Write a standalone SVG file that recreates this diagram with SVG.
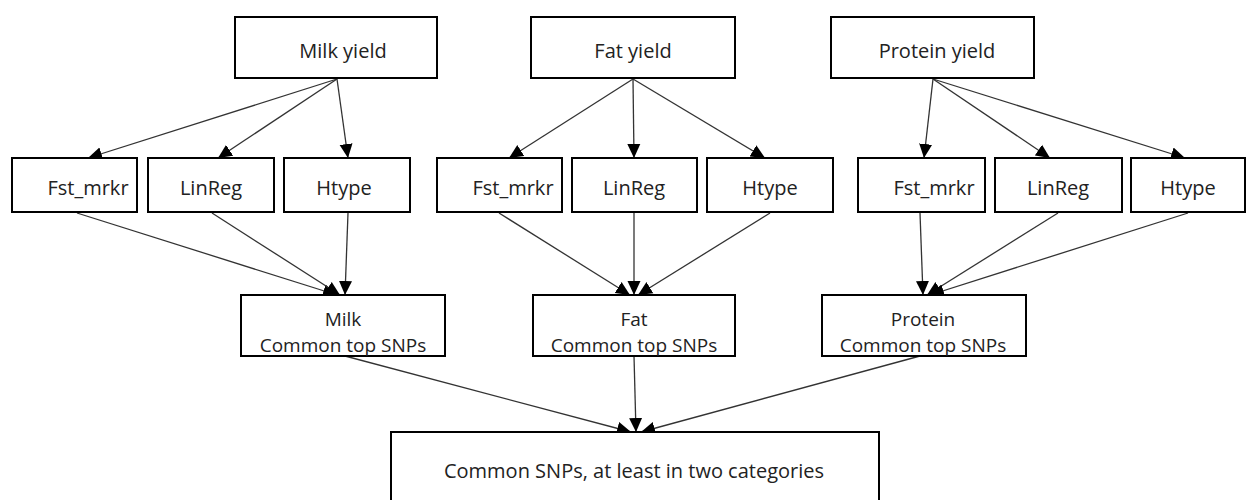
<svg xmlns="http://www.w3.org/2000/svg" width="1248" height="500" viewBox="0 0 1248 500">
<style>
.box{fill:#fff;stroke:#000;stroke-width:2}
.t{font-family:"Open Sans","Liberation Sans",sans-serif;font-size:20px;fill:#222;text-anchor:middle}
.t2{font-family:"Open Sans","Liberation Sans",sans-serif;font-size:19px;fill:#222;text-anchor:middle}
.c{stroke:#333;stroke-width:1.3;fill:none;marker-end:url(#ah)}
</style>
<defs>
<marker id="ah" markerUnits="userSpaceOnUse" markerWidth="15" markerHeight="14" refX="14" refY="6.5" orient="auto" viewBox="0 0 15 13">
<path d="M0,0 L14,6.5 L0,13 z" fill="#000"/>
</marker>
</defs>
<rect width="1248" height="500" fill="#fff"/>
<g id="connectors">
<line class="c" x1="337" y1="79" x2="88" y2="158"/>
<line class="c" x1="337" y1="79" x2="218" y2="158"/>
<line class="c" x1="337" y1="79" x2="348" y2="158"/>
<line class="c" x1="633" y1="79" x2="509" y2="158"/>
<line class="c" x1="633" y1="79" x2="634" y2="158"/>
<line class="c" x1="633" y1="79" x2="765" y2="158"/>
<line class="c" x1="933" y1="79" x2="924" y2="158"/>
<line class="c" x1="933" y1="79" x2="1050" y2="158"/>
<line class="c" x1="933" y1="79" x2="1185" y2="158"/>
<line class="c" x1="77" y1="213" x2="337" y2="295"/>
<line class="c" x1="212" y1="213" x2="340" y2="295"/>
<line class="c" x1="348" y1="213" x2="345" y2="295"/>
<line class="c" x1="499" y1="213" x2="630" y2="295"/>
<line class="c" x1="634" y1="213" x2="634" y2="295"/>
<line class="c" x1="770" y1="213" x2="638" y2="295"/>
<line class="c" x1="920" y1="213" x2="923" y2="295"/>
<line class="c" x1="1058" y1="213" x2="927" y2="295"/>
<line class="c" x1="1188" y1="213" x2="930" y2="295"/>
<line class="c" x1="345" y1="356" x2="631" y2="432"/>
<line class="c" x1="634" y1="356" x2="636" y2="432"/>
<line class="c" x1="920" y1="356" x2="641" y2="432"/>
</g>
<g id="milk-yield"><rect class="box" x="235" y="17" width="202" height="61"/><text class="t" x="343" y="58">Milk yield</text></g>
<g id="fat-yield"><rect class="box" x="531" y="17" width="204" height="61"/><text class="t" x="633" y="58">Fat yield</text></g>
<g id="protein-yield"><rect class="box" x="831" y="17" width="203" height="61"/><text class="t" x="937" y="58">Protein yield</text></g>

<g id="milk-fst"><rect class="box" x="12" y="158" width="125" height="54"/><text class="t" x="88" y="195">Fst_mrkr</text></g>
<g id="milk-linreg"><rect class="box" x="148" y="158" width="126" height="54"/><text class="t" x="211" y="195">LinReg</text></g>
<g id="milk-htype"><rect class="box" x="284" y="158" width="126" height="54"/><text class="t" x="344" y="195">Htype</text></g>

<g id="fat-fst"><rect class="box" x="437" y="158" width="125" height="54"/><text class="t" x="513" y="195">Fst_mrkr</text></g>
<g id="fat-linreg"><rect class="box" x="572" y="158" width="125" height="54"/><text class="t" x="634" y="195">LinReg</text></g>
<g id="fat-htype"><rect class="box" x="707" y="158" width="126" height="54"/><text class="t" x="770" y="195">Htype</text></g>

<g id="protein-fst"><rect class="box" x="858" y="158" width="127" height="54"/><text class="t" x="934" y="195">Fst_mrkr</text></g>
<g id="protein-linreg"><rect class="box" x="995" y="158" width="127" height="54"/><text class="t" x="1058" y="195">LinReg</text></g>
<g id="protein-htype"><rect class="box" x="1131" y="158" width="114" height="54"/><text class="t" x="1188" y="195">Htype</text></g>

<g id="milk-common"><rect class="box" x="241" y="295" width="204" height="61"/><text class="t2" x="343" y="326">Milk</text><text class="t2" x="343" y="352">Common top SNPs</text></g>
<g id="fat-common"><rect class="box" x="533" y="295" width="202" height="61"/><text class="t2" x="634" y="326">Fat</text><text class="t2" x="634" y="352">Common top SNPs</text></g>
<g id="protein-common"><rect class="box" x="822" y="295" width="204" height="61"/><text class="t2" x="923" y="326">Protein</text><text class="t2" x="923" y="352">Common top SNPs</text></g>

<g id="common-snps"><rect class="box" x="391" y="432" width="488" height="80"/><text class="t" x="634" y="478">Common SNPs, at least in two categories</text></g>
</svg>
